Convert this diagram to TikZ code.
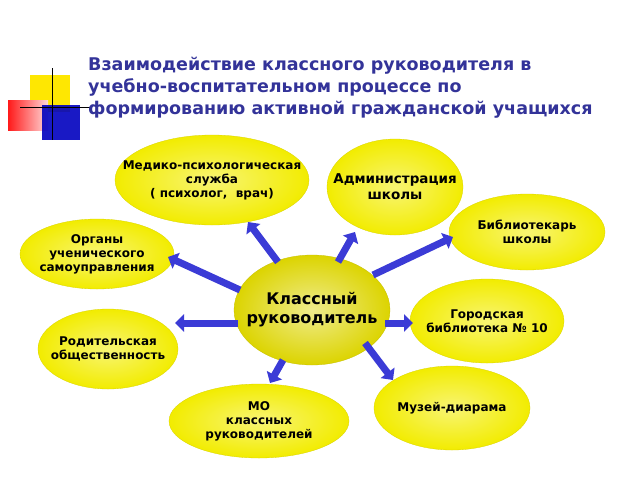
\documentclass[tikz,border=0pt]{standalone}
\usepackage{fontspec}
\setmainfont{DejaVu Sans}
\usetikzlibrary{calc,arrows.meta,shapes.geometric}
\definecolor{ttl}{HTML}{333399}
\definecolor{yel}{HTML}{F2EC00}
\definecolor{olv}{HTML}{DCD400}
\definecolor{arr}{HTML}{3B3BD6}
\tikzset{
 ell/.style={ellipse, shade, inner color=yel!55!white, outer color=yel, draw=yel!90!black, line width=0.3pt, inner sep=0pt},
 txt/.style={align=center, font=\bfseries\fontsize{12}{14}\selectfont, inner sep=0pt},
 barr/.style={draw=arr, line width=7pt, -{Triangle[length=9pt,width=17pt]}}
}
\begin{document}
\begin{tikzpicture}[x=1pt,y=-1pt]
\useasboundingbox (0,0) rectangle (640,480);
\fill[white] (0,0) rectangle (640,480);
% decoration
\fill[yellow!90!orange] (30,75) rectangle (70,112);
\shade[left color=red!90, right color=red!15] (8,100) rectangle (48,130);
\fill[blue!75!black, opacity=0.9] (42,105) rectangle (80,140);
\draw[line width=1pt] (52,68) -- (52,140);
\draw[line width=1pt] (20,107) -- (90,107);
% title
\node[anchor=north west, align=left, text=ttl, font=\bfseries\fontsize{17.5}{22}\selectfont, inner sep=0pt] (t) at (88,57)
 {Взаимодействие классного руководителя в\\учебно-воспитательном процессе по\\формированию активной гражданской учащихся};
% ellipses
\node[ell, minimum width=194, minimum height=90] (med) at (212,180) {};
\node[txt] (medt) at (med) {Медико-психологическая\\служба\\( психолог,\ \ врач)};
\node[ell, minimum width=136, minimum height=96] (adm) at (395,187) {};
\node[txt, font=\bfseries\fontsize{13.5}{16}\selectfont] (admt) at (adm) {Администрация\\школы};
\node[ell, minimum width=156, minimum height=76] (bib) at (527,232) {};
\node[txt] (bibt) at (bib) {Библиотекарь\\школы};
\node[ell, minimum width=154, minimum height=70] (org) at (97,254) {};
\node[txt] (orgt) at (org) {Органы\\ученического\\самоуправления};
\node[ell, minimum width=156, minimum height=110, inner color=olv!45!white, outer color=olv, draw=olv!90!black] (kl) at (312,310) {};
\node[txt, font=\bfseries\fontsize{16}{19}\selectfont] (klt) at (kl) {Классный\\руководитель};
\node[ell, minimum width=154, minimum height=84] (gor) at (487,321) {};
\node[txt] (gort) at (gor) {Городская\\библиотека № 10};
\node[ell, minimum width=140, minimum height=80] (rod) at (108,349) {};
\node[txt] (rodt) at (rod) {Родительская\\общественность};
\node[ell, minimum width=156, minimum height=84] (muz) at (452,408) {};
\node[txt] (muzt) at (muz) {Музей-диарама};
\node[ell, minimum width=180, minimum height=74] (mo) at (259,421) {};
\node[txt] (mot) at (mo) {МО\\классных\\руководителей};
% arrows
\draw[barr] ($(kl)+(-34,-48)$) -- ($(med)+(36,42)$);
\draw[barr] ($(kl)+(26,-48)$) -- ($(adm)+(-40,45)$);
\draw[barr] ($(kl)+(61,-35)$) -- ($(bib)+(-74,5)$);
\draw[barr] ($(kl)+(-72,-20)$) -- ($(org)+(71,3)$);
\draw[barr] ($(kl)+(-74,13)$) -- ($(rod)+(67,-26)$);
\draw[barr] ($(kl)+(73,13)$) -- ($(gor)+(-74,2)$);
\draw[barr] ($(kl)+(53,33)$) -- ($(muz)+(-59,-28)$);
\draw[barr] ($(kl)+(-29,50)$) -- ($(mo)+(11,-38)$);
\end{tikzpicture}
\end{document}
